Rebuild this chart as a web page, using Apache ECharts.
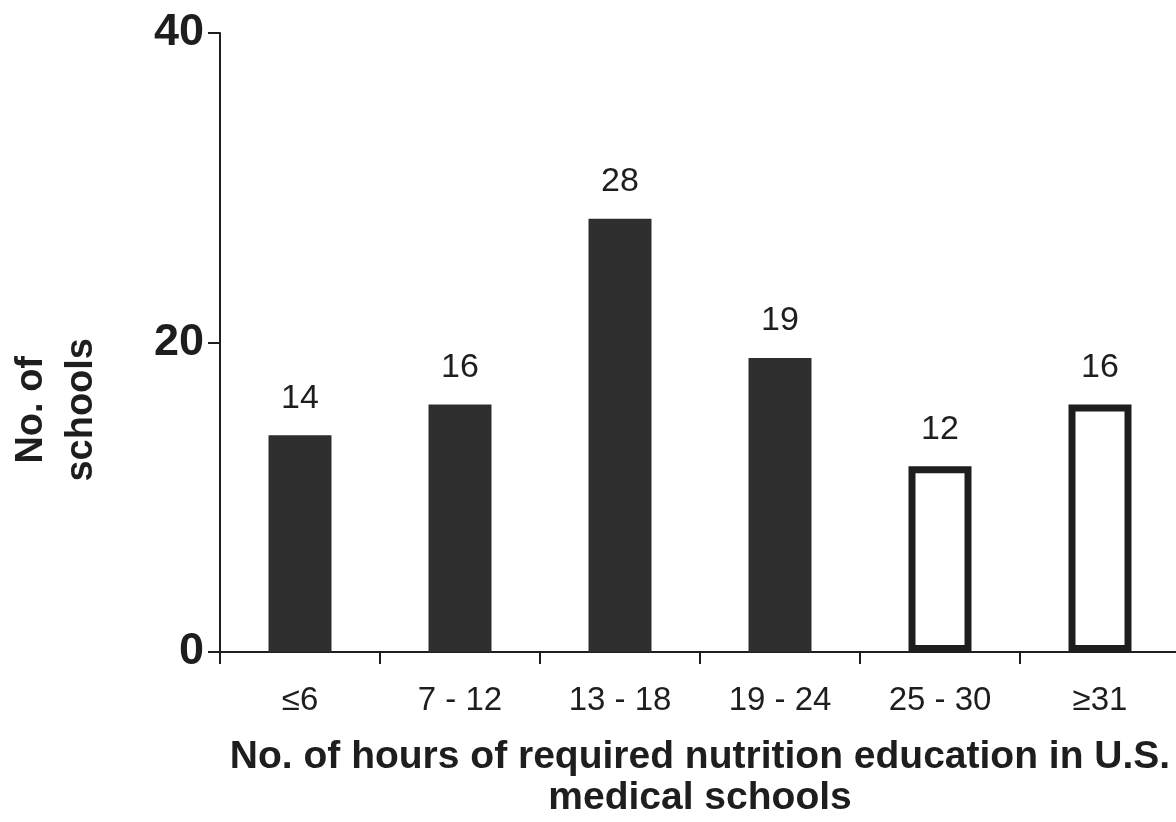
<!DOCTYPE html>
<html>
<head>
<meta charset="utf-8">
<script src="https://cdn.jsdelivr.net/npm/echarts@6/dist/echarts.min.js"></script>
<style>
html,body{margin:0;padding:0;background:#fff;}
#chart{width:1176px;height:822px;}
</style>
</head>
<body>
<div id="chart"></div>
<script>
// ---- data ----
const categories = ['≤6', '7 - 12', '13 - 18', '19 - 24', '25 - 30', '≥31'];
const schoolCounts = [14, 16, 28, 19, 12, 16];
const yTicks = [0, 20, 40];
const xTitle = 'No. of hours of required nutrition education in U.S.\nmedical schools';
const yTitle = 'No. of\nschools';
const firstHollowIndex = 4; // bars from this index on are drawn hollow

// ---- chart ----
const FONT = '"Liberation Sans", Arial, sans-serif';
const INK = '#1e1e1e';
const FILL = '#2e2e2e';

const chart = echarts.init(document.getElementById('chart'));
chart.setOption({
  backgroundColor: '#ffffff',
  animation: false,
  grid: { left: 220, right: -4, top: 33, bottom: 170, containLabel: false, outerBoundsMode: 'none' },
  xAxis: {
    type: 'category',
    data: categories,
    axisLine: { lineStyle: { color: INK, width: 2 } },
    axisTick: { show: true, length: 12, lineStyle: { color: INK, width: 2 } },
    axisLabel: { color: INK, fontFamily: FONT, fontSize: 33, margin: 32 },
    name: xTitle,
    nameLocation: 'middle',
    nameGap: 85,
    nameTextStyle: { color: INK, fontFamily: FONT, fontSize: 39, fontWeight: 'bold', lineHeight: 41, align: 'center' }
  },
  yAxis: {
    type: 'value',
    min: yTicks[0],
    max: yTicks[yTicks.length - 1],
    interval: yTicks[1] - yTicks[0],
    splitLine: { show: false },
    axisLine: { show: true, lineStyle: { color: INK, width: 2 } },
    axisTick: { show: true, length: 12, lineStyle: { color: INK, width: 2 } },
    axisLabel: { color: INK, fontFamily: FONT, fontSize: 45, fontWeight: 'bold', margin: 16 }
  },
  graphic: [{
    type: 'text',
    left: 7, top: 338,
    rotation: Math.PI / 2,
    style: {
      text: yTitle,
      fill: INK,
      font: 'bold 38px "Liberation Sans", Arial, sans-serif',
      lineHeight: 50,
      textAlign: 'center'
    }
  }],
  series: [{
    type: 'bar',
    data: schoolCounts.map((v, i) => ({
      value: v,
      itemStyle: i >= firstHollowIndex
        ? { color: '#ffffff', borderColor: INK, borderWidth: 7 }
        : { color: FILL, borderColor: FILL, borderWidth: 7 }
    })),
    barWidth: 63,
    label: {
      show: true,
      position: 'top',
      distance: 20,
      color: INK,
      fontFamily: FONT,
      fontSize: 34
    }
  }]
});
</script>
</body>
</html>
